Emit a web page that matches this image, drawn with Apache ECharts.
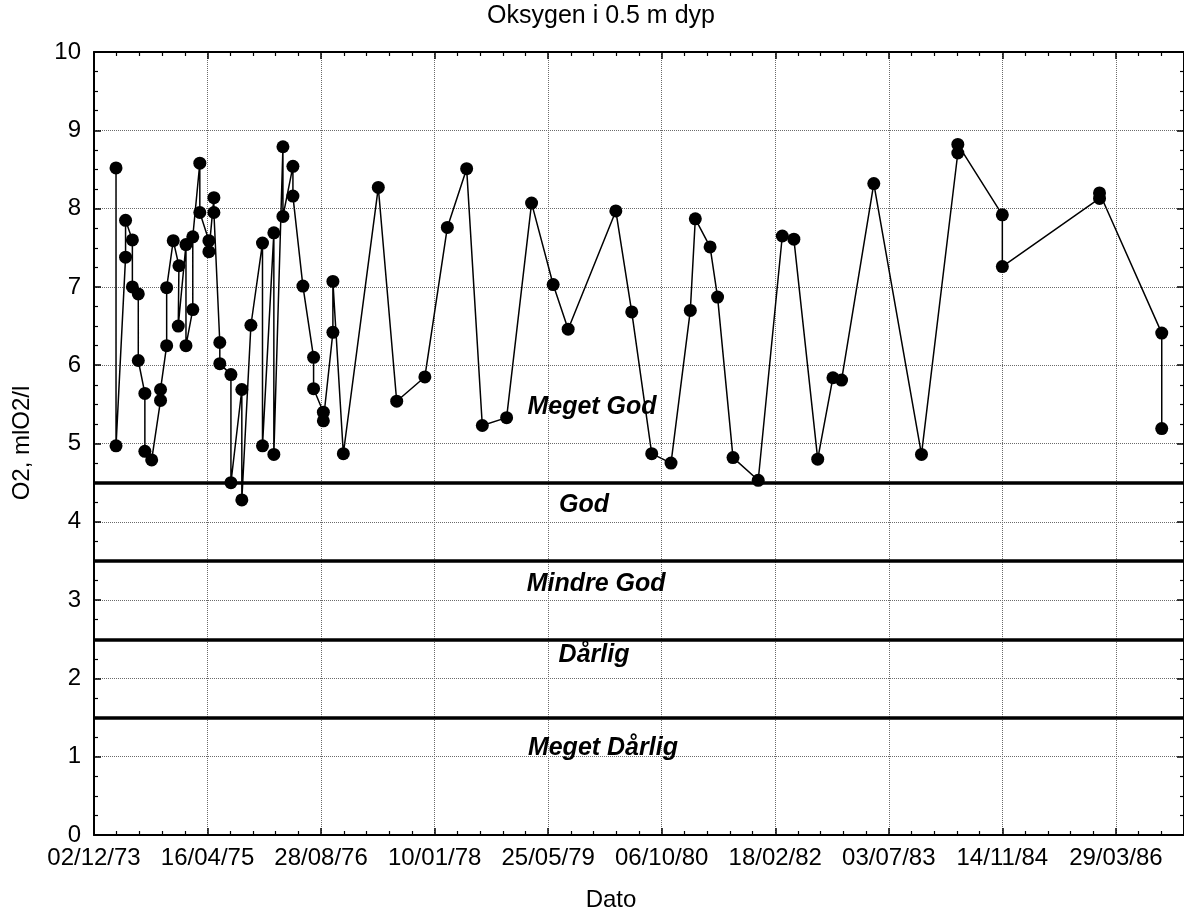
<!DOCTYPE html>
<html>
<head>
<meta charset="utf-8">
<script src="https://cdn.jsdelivr.net/npm/echarts@6/dist/echarts.min.js"></script>
<style>
html,body{margin:0;padding:0;background:#fff;}
#chart{width:1184px;height:916px;}
</style>
</head>
<body>
<div id="chart"></div>
<script>
// Sampling dates, given as days after 02/12/1973 (the first x tick)
const dayOffsets = [
  97, 97, 139, 139, 169, 169, 195, 195, 224, 224,
  254, 293, 293, 320, 320, 349, 374, 371, 405, 405,
  435, 435, 466, 466, 506, 506, 528, 528, 554, 554,
  603, 603, 651, 651, 691, 742, 742, 792, 792, 832,
  832, 876, 876, 920, 967, 967, 1010, 1010, 1052, 1052,
  1098, 1252, 1333, 1457, 1556, 1641, 1710, 1817, 1927, 2022,
  2088, 2298, 2368, 2456, 2541, 2626, 2648, 2713, 2746, 2814,
  2925, 3031, 3082, 3187, 3254, 3292, 3434, 3644, 3804, 3804,
  4000, 4000, 4428, 4428, 4702, 4702
];
// O2 (ml O2/l) at 0.5 m depth
const o2Values = [
  8.52, 4.97, 7.38, 7.85, 7.60, 7.00, 6.91, 6.06, 5.64, 4.90,
  4.79, 5.55, 5.69, 6.25, 6.99, 7.59, 7.27, 6.50, 7.54, 6.25,
  6.71, 7.64, 8.58, 7.95, 7.59, 7.45, 8.14, 7.95, 6.29, 6.02,
  5.88, 4.50, 5.69, 4.28, 6.51, 7.56, 4.97, 7.69, 4.86, 8.79,
  7.90, 8.54, 8.16, 7.01, 6.10, 5.70, 5.40, 5.29, 6.42, 7.07,
  4.87, 8.27, 5.54, 5.85, 7.76, 8.51, 5.23, 5.33, 8.07, 7.03,
  6.46, 7.97, 6.68, 4.87, 4.75, 6.70, 7.87, 7.51, 6.87, 4.82,
  4.53, 7.65, 7.61, 4.80, 5.84, 5.81, 8.32, 4.86, 8.71, 8.82,
  7.92, 7.26, 8.13, 8.20, 6.41, 5.19
];
// Class boundaries (ml O2/l)
const classLimits = [4.5, 3.5, 2.5, 1.5];
// Class names and where they are written (day offset, O2 value)
const classNames = ['Meget God', 'God', 'Mindre God', 'Dårlig', 'Meget Dårlig'];
const classLabelDays = [2193, 2158, 2211, 2202, 2241];
const classLabelValues = [5.47, 4.21, 3.21, 2.30, 1.11];

const startDateUTC = Date.UTC(1973, 11, 2);
function fmtDate(d) {
  const dt = new Date(startDateUTC + Math.round(d) * 86400000);
  const dd = String(dt.getUTCDate()).padStart(2, '0');
  const mm = String(dt.getUTCMonth() + 1).padStart(2, '0');
  const yy = String(dt.getUTCFullYear() % 100).padStart(2, '0');
  return dd + '/' + mm + '/' + yy;
}

const FONT = '"Liberation Sans", Arial, sans-serif';
const seriesData = dayOffsets.map((d, i) => [d, o2Values[i]]);
const labelData = classNames.map((n, i) => ({ name: n, value: [classLabelDays[i], classLabelValues[i]] }));

const gridSplit = { show: true, lineStyle: { color: '#6a6a6a', width: 1, type: [1, 1] } };
const axLine = { show: true, onZero: false, lineStyle: { color: '#000', width: 2 } };

const chart = echarts.init(document.getElementById('chart'), null, { renderer: 'canvas' });
chart.setOption({
  animation: false,
  backgroundColor: '#fff',
  grid: { left: 94, right: -4, top: 52, bottom: 81, containLabel: false },
  xAxis: [
    {
      type: 'value', min: 0, max: 4800, interval: 500, position: 'bottom',
      axisLine: axLine,
      axisTick: { show: true, inside: true, length: 7, lineStyle: { color: '#000', width: 1.5 } },
      minorTick: { show: true, splitNumber: 5, length: 4, lineStyle: { color: '#000', width: 1.2 } },
      splitLine: gridSplit,
      axisLabel: { show: true, formatter: fmtDate, color: '#000', fontSize: 24, fontFamily: FONT, margin: 11, showMaxLabel: false }
    },
    {
      type: 'value', min: 0, max: 4800, interval: 500, position: 'top',
      axisLine: axLine,
      axisTick: { show: true, inside: true, length: 7, lineStyle: { color: '#000', width: 1.5 } },
      minorTick: { show: true, splitNumber: 5, length: 4, lineStyle: { color: '#000', width: 1.2 } },
      splitLine: { show: false },
      axisLabel: { show: false }
    }
  ],
  yAxis: [
    {
      type: 'value', min: 0, max: 10, interval: 1, position: 'left',
      axisLine: axLine,
      axisTick: { show: true, inside: true, length: 7, lineStyle: { color: '#000', width: 1.5 } },
      minorTick: { show: true, splitNumber: 4, length: 4, lineStyle: { color: '#000', width: 1.2 } },
      splitLine: gridSplit,
      axisLabel: { show: true, color: '#000', fontSize: 24, fontFamily: FONT, margin: 13 }
    },
    {
      type: 'value', min: 0, max: 10, interval: 1, position: 'right',
      axisLine: axLine,
      axisTick: { show: true, inside: true, length: 7, lineStyle: { color: '#000', width: 1.5 } },
      minorTick: { show: true, splitNumber: 4, length: 4, lineStyle: { color: '#000', width: 1.2 } },
      splitLine: { show: false },
      axisLabel: { show: false }
    }
  ],
  graphic: [
    { type: 'text', x: 601, y: 16, style: { text: 'Oksygen i 0.5 m dyp', fill: '#000', font: '25px ' + FONT, textAlign: 'center', textVerticalAlign: 'middle' } },
    { type: 'text', x: 611, y: 900, style: { text: 'Dato', fill: '#000', font: '24px ' + FONT, textAlign: 'center', textVerticalAlign: 'middle' } },
    { type: 'text', x: 22, y: 443, rotation: Math.PI / 2, style: { text: 'O2, mlO2/l', fill: '#000', font: '24px ' + FONT, textAlign: 'center', textVerticalAlign: 'middle' } }
  ],
  series: [
    {
      type: 'line', xAxisIndex: 0, yAxisIndex: 0, data: [], symbol: 'none', silent: true, z: 3,
      markLine: {
        silent: true, symbol: ['none', 'none'], animation: false,
        label: { show: false },
        lineStyle: { color: '#000', width: 3.5, type: 'solid' },
        data: classLimits.map(v => ({ yAxis: v }))
      }
    },
    {
      type: 'scatter', xAxisIndex: 0, yAxisIndex: 0, data: labelData, symbolSize: 0, silent: true, z: 4,
      itemStyle: { color: '#000', opacity: 1 },
      label: {
        show: true, position: 'inside', formatter: p => p.name, color: '#000', opacity: 1,
        fontSize: 25, fontWeight: 'bold', fontStyle: 'italic', fontFamily: FONT
      }
    },
    {
      type: 'line', xAxisIndex: 0, yAxisIndex: 0, data: seriesData, z: 5,
      symbol: 'circle', symbolSize: 13, showAllSymbol: true,
      lineStyle: { color: '#000', width: 1.5 },
      itemStyle: { color: '#000' }
    }
  ]
});
</script>
</body>
</html>
